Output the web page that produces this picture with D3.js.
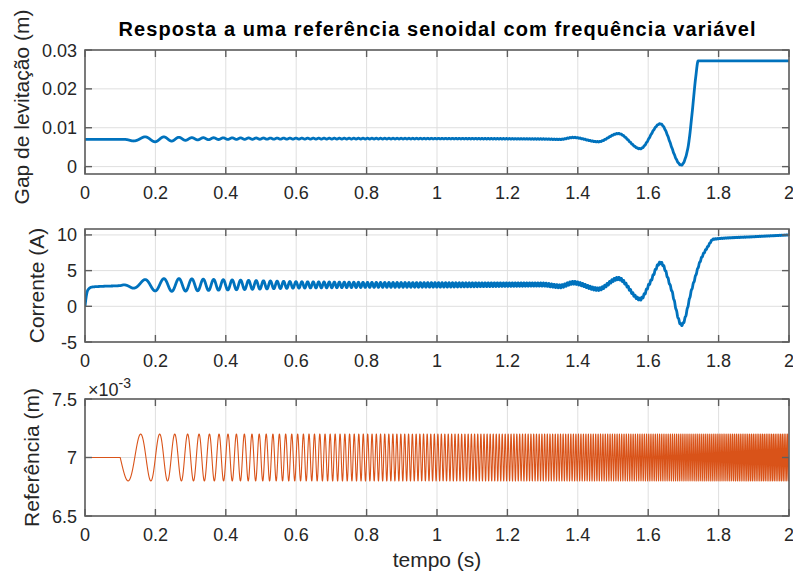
<!DOCTYPE html>
<html><head><meta charset="utf-8">
<script src="https://cdn.jsdelivr.net/npm/d3@7"></script>
<style>body{margin:0;background:#fff} svg{display:block}</style>
</head><body><svg id="c" width="793" height="577"></svg>
<script>
// ---------- data ----------
const xTicks = [0, 0.2, 0.4, 0.6, 0.8, 1, 1.2, 1.4, 1.6, 1.8, 2];
const xTickLabels = ["0", "0.2", "0.4", "0.6", "0.8", "1", "1.2", "1.4", "1.6", "1.8", "2"];
const gapTicks = [0, 0.01, 0.02, 0.03];
const gapTickLabels = ["0", "0.01", "0.02", "0.03"];
const curTicks = [-5, 0, 5, 10];
const curTickLabels = ["-5", "0", "5", "10"];
const refTicks = [0.0065, 0.007, 0.0075];
const refTickLabels = ["6.5", "7", "7.5"];

// gap de levitação: slow shape (knots) + oscillation envelope
const gapT = [0, 0.12, 0.4, 1.0, 1.3, 1.35, 1.387, 1.458, 1.515, 1.577, 1.634, 1.694, 1.705, 1.715, 1.725, 1.735, 1.742, 2.0];
const gapV = [0.0070, 0.0070, 0.0072, 0.0072, 0.0071, 0.0070, 0.0075, 0.0064, 0.0085, 0.0046, 0.0110, 0.0004, 0.0020, 0.0060, 0.0140, 0.0230, 0.0272, 0.0272];
const gapOscT = [0.112, 0.135, 0.17, 0.2, 0.25, 0.3, 0.4, 0.6, 1.0, 1.7, 1.74, 2.0];
const gapOscA = [0, 0.0004, 0.00065, 0.00065, 0.0005, 0.0003, 0.0002, 0.00012, 0.00009, 0.00006, 0, 0];

// corrente: slow shape (knots) + oscillation envelope
const curT = [0, 0.003, 0.006, 0.01, 0.02, 0.05, 0.1, 0.11, 0.3, 0.6, 1.0, 1.3, 1.35, 1.387, 1.458, 1.515, 1.577, 1.605, 1.635, 1.665, 1.695, 1.725, 1.75, 1.77, 1.785, 1.9, 2.0];
const curV = [0, 1.2, 2.0, 2.4, 2.7, 2.8, 2.9, 3.0, 3.0, 3.0, 3.0, 3.05, 2.8, 3.3, 2.4, 3.9, 1.0, 3.3, 6.1, 2.5, -2.6, 2.6, 6.6, 8.4, 9.4, 9.75, 10.0];
const curOscT = [0.11, 0.135, 0.17, 0.2, 0.25, 0.3, 0.35, 0.43, 0.6, 0.82, 1.0, 1.2, 1.5, 1.75, 1.8, 2.0];
const curOscA = [0, 0.45, 0.75, 0.85, 0.9, 0.85, 0.78, 0.68, 0.45, 0.35, 0.32, 0.25, 0.18, 0.1, 0.03, 0.02];

// referência: sinusoid of variable frequency
const refFreqT = [0.1, 0.3, 0.5, 0.7, 0.9, 1.1, 1.3, 1.5, 1.7, 1.9, 2.0];
const refFreqHz = [10, 30, 50, 70, 90, 110, 130, 150, 170, 190, 200];
const refStart = 0.1, refMean = 0.007, refAmp = 0.0002;
const responseLag = 0.012;

// ---------- helpers ----------
function linInterp(xs, ys, t) {
  if (t <= xs[0]) return ys[0];
  if (t >= xs[xs.length - 1]) return ys[ys.length - 1];
  let i = d3.bisectRight(xs, t) - 1;
  const u = (t - xs[i]) / (xs[i + 1] - xs[i]);
  return ys[i] + u * (ys[i + 1] - ys[i]);
}
function monotone(xs, ys) {
  const n = xs.length, m = new Array(n);
  const s = [], h = [];
  for (let i = 0; i < n - 1; i++) { h[i] = xs[i + 1] - xs[i]; s[i] = (ys[i + 1] - ys[i]) / h[i]; }
  for (let i = 1; i < n - 1; i++) {
    const p = (s[i - 1] * h[i] + s[i] * h[i - 1]) / (h[i - 1] + h[i]);
    m[i] = (Math.sign(s[i - 1]) + Math.sign(s[i])) * Math.min(Math.abs(s[i - 1]), Math.abs(s[i]), 0.5 * Math.abs(p)) || 0;
  }
  m[0] = s[0]; m[n - 1] = s[n - 2];
  return function (t) {
    if (t <= xs[0]) return ys[0];
    if (t >= xs[n - 1]) return ys[n - 1];
    const i = d3.bisectRight(xs, t) - 1;
    const hh = h[i], u = (t - xs[i]) / hh, u2 = u * u, u3 = u2 * u;
    return (2 * u3 - 3 * u2 + 1) * ys[i] + (u3 - 2 * u2 + u) * hh * m[i] + (-2 * u3 + 3 * u2) * ys[i + 1] + (u3 - u2) * hh * m[i + 1];
  };
}

// phase of the reference (cycles) on a fine time grid
const dt = 0.0001;
const N = Math.round(2 / dt);
const times = d3.range(N + 1).map(i => i * dt);
const phase = new Float64Array(N + 1);
for (let i = 1; i <= N; i++) {
  const t = times[i];
  phase[i] = t <= refStart ? 0 : phase[i - 1] + linInterp(refFreqT, refFreqHz, t - dt / 2) * dt;
}
function carrier(t) {
  if (t <= refStart) return 0;
  const idx = Math.min(N, Math.max(0, Math.round(t / dt)));
  return -Math.sin(2 * Math.PI * phase[idx]);
}

const refData = times.map((t, i) => [t, t <= refStart ? refMean : refMean + refAmp * -Math.sin(2 * Math.PI * phase[i])]);
const gapBase = monotone(gapT, gapV), curBase = monotone(curT, curV);
const gapData = times.map(t => [t, gapBase(t) + linInterp(gapOscT, gapOscA, t) * carrier(t - responseLag)]);
const curData = times.map(t => [t, curBase(t) + linInterp(curOscT, curOscA, t) * carrier(t - responseLag)]);

// ---------- drawing ----------
const svg = d3.select("#c");
const L = 85, R = 789;
const x = d3.scaleLinear().domain([0, 2]).range([L, R]);
const panels = [
  { top: 50, bottom: 174, domain: [-0.0019, 0.03], ticks: gapTicks, labels: gapTickLabels, data: gapData, color: "#0072BD", width: 2.8, ylabel: "Gap de levitação (m)", lx: 29, ly: 107 },
  { top: 229, bottom: 342, domain: [-5, 10.83], ticks: curTicks, labels: curTickLabels, data: curData, color: "#0072BD", width: 2.8, ylabel: "Corrente (A)", lx: 44, ly: 285.5 },
  { top: 399, bottom: 516, domain: [0.0065, 0.0075], ticks: refTicks, labels: refTickLabels, data: refData, color: "#D95319", width: 1.1, ylabel: "Referência (m)", lx: 39, ly: 457.5 }
];
const font = "'Liberation Sans', Arial, Helvetica, sans-serif";
const axisCol = "#262626";

panels.forEach((p, k) => {
  const y = d3.scaleLinear().domain(p.domain).range([p.bottom, p.top]);
  const g = svg.append("g");
  g.selectAll(".gx").data(xTicks).join("line")
    .attr("x1", d => x(d)).attr("x2", d => x(d)).attr("y1", p.top).attr("y2", p.bottom)
    .attr("stroke", "#dfdfdf").attr("stroke-width", 1);
  g.selectAll(".gy").data(p.ticks).join("line")
    .attr("x1", L).attr("x2", R).attr("y1", d => y(d)).attr("y2", d => y(d))
    .attr("stroke", "#dfdfdf").attr("stroke-width", 1);
  const cid = "clip" + k;
  svg.append("clipPath").attr("id", cid).append("rect")
    .attr("x", L).attr("y", p.top).attr("width", R - L).attr("height", p.bottom - p.top);
  g.append("path").datum(p.data)
    .attr("clip-path", `url(#${cid})`)
    .attr("fill", "none").attr("stroke", p.color).attr("stroke-width", p.width)
    .attr("stroke-linejoin", "round")
    .attr("d", d3.line().x(d => x(d[0])).y(d => y(d[1])));
  g.append("rect").attr("x", L).attr("y", p.top).attr("width", R - L).attr("height", p.bottom - p.top)
    .attr("fill", "none").attr("stroke", "#5e5e5e").attr("stroke-width", 1.6);
  const tl = 7;
  xTicks.forEach(d => {
    g.append("line").attr("x1", x(d)).attr("x2", x(d)).attr("y1", p.bottom).attr("y2", p.bottom - tl).attr("stroke", "#5e5e5e").attr("stroke-width", 1.4);
    g.append("line").attr("x1", x(d)).attr("x2", x(d)).attr("y1", p.top).attr("y2", p.top + tl).attr("stroke", "#5e5e5e").attr("stroke-width", 1.4);
  });
  p.ticks.forEach(d => {
    g.append("line").attr("x1", L).attr("x2", L + tl).attr("y1", y(d)).attr("y2", y(d)).attr("stroke", "#5e5e5e").attr("stroke-width", 1.4);
    g.append("line").attr("x1", R).attr("x2", R - tl).attr("y1", y(d)).attr("y2", y(d)).attr("stroke", "#5e5e5e").attr("stroke-width", 1.4);
  });
  g.selectAll(".xl").data(xTicks).join("text")
    .attr("x", d => x(d)).attr("y", p.bottom + 25).attr("text-anchor", "middle")
    .attr("font-family", font).attr("font-size", 18).attr("fill", axisCol)
    .text((d, i) => xTickLabels[i]);
  g.selectAll(".yl").data(p.ticks).join("text")
    .attr("x", L - 8).attr("y", d => y(d) + 6.5).attr("text-anchor", "end")
    .attr("font-family", font).attr("font-size", 18).attr("fill", axisCol)
    .text((d, i) => p.labels[i]);
  g.append("text").attr("transform", `translate(${p.lx},${p.ly}) rotate(-90)`)
    .attr("text-anchor", "middle").attr("font-family", font).attr("font-size", 21).attr("fill", axisCol)
    .text(p.ylabel);
});

const ex = svg.append("text").attr("x", 88).attr("y", 396).attr("font-family", font).attr("font-size", 18).attr("fill", axisCol);
ex.append("tspan").text("×10");
ex.append("tspan").attr("dy", -8).attr("font-size", 14).text("-3");

svg.append("text").attr("x", 437).attr("y", 36).attr("text-anchor", "middle")
  .attr("font-family", font).attr("font-size", 20).attr("font-weight", "bold").attr("fill", "#000")
  .attr("textLength", 637).attr("lengthAdjust", "spacing")
  .text("Resposta a uma referência senoidal com frequência variável");
svg.append("text").attr("x", 437).attr("y", 567).attr("text-anchor", "middle")
  .attr("font-family", font).attr("font-size", 21).attr("fill", axisCol)
  .text("tempo (s)");
</script></body></html>
